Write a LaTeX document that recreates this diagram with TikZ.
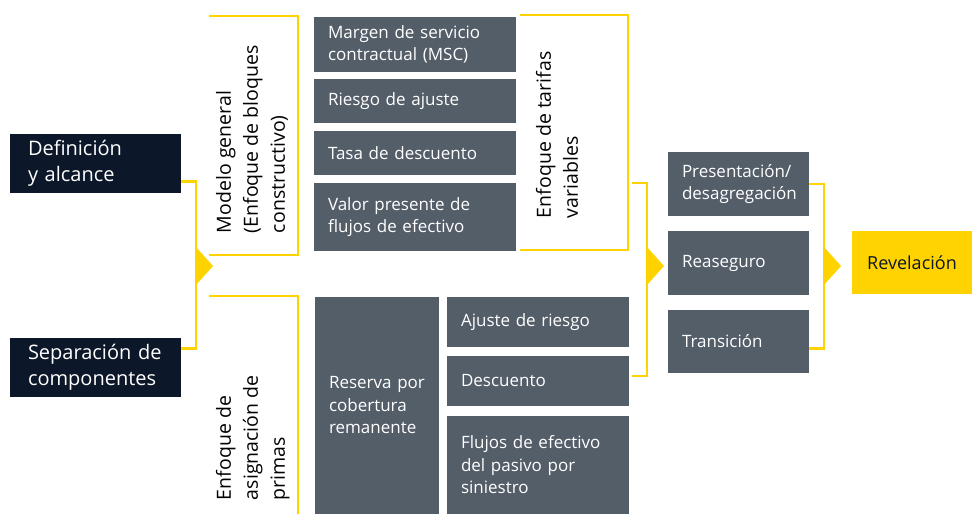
\documentclass[tikz,border=0pt]{standalone}
\usepackage{fontspec}
\setmainfont{Open Sans}
\usetikzlibrary{positioning}
\definecolor{eynavy}{HTML}{0C1729}
\definecolor{eygray}{HTML}{545E69}
\definecolor{eyyellow}{HTML}{FFD300}
\newcommand{\ytip}[1]{\fill[eyyellow] ([yshift=19pt]#1) -- ([xshift=17pt]#1) -- ([yshift=-19pt]#1) -- cycle;}
\begin{document}
\begin{tikzpicture}[x=1pt,y=-1pt,node distance=8pt,
  every node/.append style={align=left,outer sep=0pt},
  dark/.style={fill=eynavy,text=white,anchor=north west,inner xsep=18pt,inner ysep=0pt,
    text width=135pt,minimum height=59pt,font=\fontsize{20}{26}\selectfont},
  box/.style={fill=eygray,text=white,anchor=north west,inner xsep=14pt,inner ysep=0pt,
    font=\fontsize{17}{22.5}\selectfont},
  side/.style={rotate=90,anchor=north west,inner sep=0pt,font=\fontsize{19.5}{27}\selectfont},
  yline/.style={draw=eyyellow,line width=2.5pt}]
\useasboundingbox (0,0) rectangle (972,514);
% left column
\node [dark] (def) at (10,134) {Definición\\y alcance};
\node [dark] (sep) at (10,338) {Separación de\\componentes};
\coordinate (j1) at (196,266);
\draw [yline] ([yshift=-18pt]def.east) -| (j1) |- ([yshift=19pt]sep.east);
\ytip{j1}
% general model
\node [side] (gm) at (216,233) {Modelo general\\(Enfoque de bloques\\constructivo)};
\draw [yline] (209,16) -| (298,255) -- (209,255);
\node [box,text width=174pt,minimum height=55pt] (msc) at (314,17) {Margen de servicio\\contractual (MSC)};
\node [box,text width=174pt,minimum height=44pt,below=7pt of msc.south west,anchor=north west] (ra) {Riesgo de ajuste};
\node [box,text width=174pt,minimum height=44pt,below=of ra.south west,anchor=north west] (td) {Tasa de descuento};
\node [box,text width=174pt,minimum height=68pt,below=of td.south west,anchor=north west] (vp) {Valor presente de\\flujos de efectivo};
\node [side] (vf) at (536,218) {Enfoque de tarifas\\variables};
\draw [yline] (520,15) -| (628,250) -- (520,250);
% premium allocation
\node [side] (pa) at (216,500) {Enfoque de\\asignación de\\primas};
\draw [yline] (209,296) -| (298,520);
\node [box,text width=96pt,minimum height=217pt] (rcr) at (315,297) {Reserva por\\cobertura\\remanente};
\node [box,text width=154pt,minimum height=50pt] (adr) at (447,297) {Ajuste de riesgo};
\node [box,text width=154pt,minimum height=50pt,below=9pt of adr.south west,anchor=north west] (desc) {Descuento};
\node [box,text width=154pt,minimum height=98pt,below=10pt of desc.south west,anchor=north west] (flu) {Flujos de efectivo\\del pasivo por\\siniestro};
\coordinate (j2) at (647,266);
\draw [yline] (632,183) -| (j2) |- ([xshift=3pt,yshift=5pt]desc.east);
\ytip{j2}
% right column
\node [box,text width=113pt,minimum height=64pt] (pres) at (668,152) {Presentación/\\desagregación};
\node [box,text width=113pt,minimum height=64pt,below=15pt of pres.south west,anchor=north west] (reas) {Reaseguro};
\node [box,text width=113pt,minimum height=63pt,below=15pt of reas.south west,anchor=north west] (trans) {Transición};
\coordinate (j3) at (824,266);
\draw [yline] (pres.east) -| (j3) |- ([yshift=-7pt]trans.east);
\ytip{j3}
\node [fill=eyyellow,text=eynavy,anchor=north west,minimum width=120pt,minimum height=63pt,
  font=\fontsize{18}{22}\selectfont] (rev) at (852,231) {Revelación};
\end{tikzpicture}
\end{document}
